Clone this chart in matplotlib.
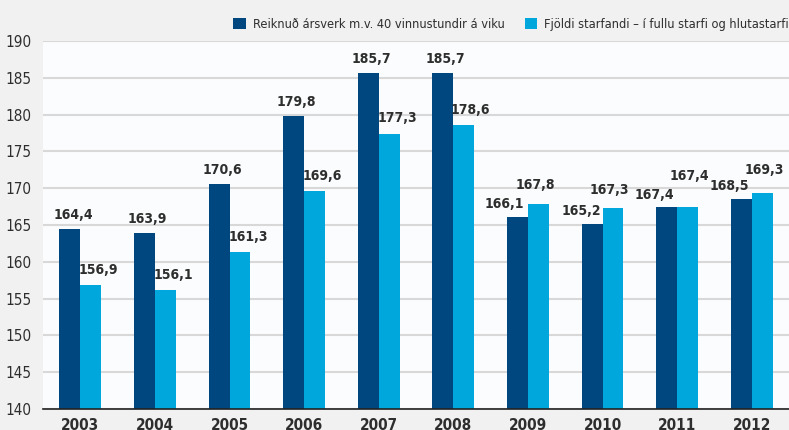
import matplotlib
matplotlib.use('Agg')
import matplotlib.pyplot as plt
import numpy as np

years = ['2003', '2004', '2005', '2006', '2007', '2008', '2009', '2010', '2011', '2012']
arsverk = [164.4, 163.9, 170.6, 179.8, 185.7, 185.7, 166.1, 165.2, 167.4, 168.5]
starfandi = [156.9, 156.1, 161.3, 169.6, 177.3, 178.6, 167.8, 167.3, 167.4, 169.3]
labels = ['Reiknuð ársverk m.v. 40 vinnustundir á viku',
          'Fjöldi starfandi – í fullu starfi og hlutastarfi']

# label nudges in pixels (dx, gap above bar), as placed in the original
dark_nudge = [(4, 7), (3, 7), (3, 7), (3, 7), (3, 7), (3, 7), (-13, 6), (-11, 6), (-12, 5), (-12, 6)]
light_nudge = [(8, 8), (8, 8), (8, 8), (8, 8), (8, 9), (7, 8), (-3, 12), (-4, 11), (2, 24), (2, 16)]

DARK = '#00467f'
LIGHT = '#00a7dd'
TEXT = '#2e2e2e'

plt.rcParams['font.family'] = ['DejaVu Sans']
plt.rcParams['font.stretch'] = 'condensed'

fig = plt.figure(figsize=(7.89, 4.30), dpi=100, facecolor='#f1f1f1')
ax = fig.add_axes([0.0545, 0.0488, 0.9455, 0.856])
ax.set_facecolor('#fafcfd')

x = np.arange(len(years))
w = 0.28
b1 = ax.bar(x - w / 2, np.array(arsverk) - 140, w, bottom=140, color=DARK, label=labels[0], zorder=3)
b2 = ax.bar(x + w / 2, np.array(starfandi) - 140, w, bottom=140, color=LIGHT, label=labels[1], zorder=3)

for xs, vals, nudge in ((x - w / 2, arsverk, dark_nudge), (x + w / 2, starfandi, light_nudge)):
    for xi, v, (dx, dy) in zip(xs, vals, nudge):
        ax.annotate(f'{v:.1f}'.replace('.', ','), (xi, v), xytext=(dx, dy),
                    textcoords='offset pixels', ha='center', va='bottom',
                    fontsize=10, fontweight='bold', color=TEXT, zorder=4)

ax.set_xlim(-0.5, 9.5)
ax.set_ylim(140, 190)
ax.set_yticks(range(140, 191, 5))
ax.set_xticks(x)
ax.set_xticklabels(years, fontsize=11, fontweight='bold', color=TEXT)
ax.tick_params(axis='y', length=0, pad=8, labelsize=11, labelcolor=TEXT)
ax.tick_params(axis='x', length=0, pad=6.5)
ax.grid(axis='y', color='#d8d8d8', linewidth=1.5, zorder=0)
for s in ('top', 'right', 'left'):
    ax.spines[s].set_visible(False)
ax.spines['bottom'].set_color('#222222')
ax.spines['bottom'].set_linewidth(1.2)
ax.spines['bottom'].set_zorder(5)

fig.legend(handles=[b1, b2], loc='upper right', bbox_to_anchor=(1.0145, 0.985),
           ncol=2, frameon=False, fontsize=9.2, handlelength=1.0, handleheight=1.0,
           handletextpad=0.55, columnspacing=1.55, labelcolor=TEXT)

fig.savefig('out.png', dpi=100, facecolor=fig.get_facecolor())
